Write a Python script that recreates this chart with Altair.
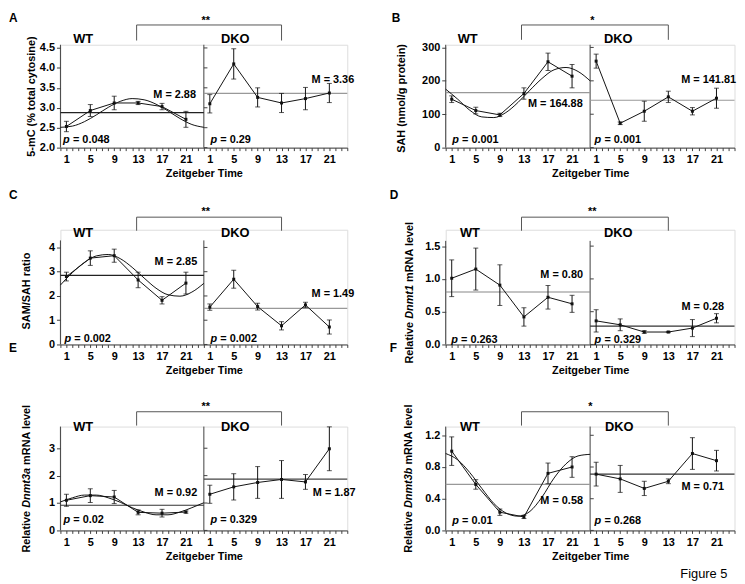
import altair as alt
import pandas as pd

FONT = "Liberation Sans"
INK = "#111111"
AXIS_C = "#404040"
BRACKET_C = "#555555"

HOURS = [1, 5, 9, 13, 17, 21]
FIT_HOURS = [0, 2, 4, 6, 8, 10, 12, 14, 16, 18, 20, 22, 24]
X_TICKS = list(range(0, 49))

# ---- Panel A: 5-mC
A_WT = [2.53, 2.93, 3.12, 3.12, 3.03, 2.71]
A_WT_ERR = [0.13, 0.15, 0.17, 0.04, 0.08, 0.20]
A_DKO = [3.10, 4.10, 3.26, 3.12, 3.23, 3.37]
A_DKO_ERR = [0.23, 0.38, 0.24, 0.24, 0.28, 0.24]
A_FIT = [2.51, 2.54, 2.65, 2.82, 3.01, 3.16, 3.23, 3.20, 3.09, 2.92, 2.73, 2.58, 2.51]
A_MEANS = [2.88, 3.36]
A_P = ["0.048", "0.29"]
A_TICKS = [2.0, 2.5, 3.0, 3.5, 4.0, 4.5]

# ---- Panel B: SAH
B_WT = [145, 111, 98, 162, 257, 214]
B_WT_ERR = [10, 10, 5, 17, 26, 35]
B_DKO = [259, 73, 109, 152, 109, 148]
B_DKO_ERR = [21, 4, 30, 17, 11, 30]
B_FIT = [175, 145, 112, 92, 90, 105, 135, 172, 207, 233, 240, 228, 200]
B_MEANS = [164.88, 141.81]
B_P = ["0.001", "0.001"]
B_TICKS = [0, 100, 200, 300]

# ---- Panel C: SAM/SAH ratio
C_WT = [2.80, 3.56, 3.66, 2.66, 1.82, 2.53]
C_WT_ERR = [0.18, 0.30, 0.27, 0.32, 0.15, 0.45]
C_DKO = [1.54, 2.69, 1.56, 0.77, 1.63, 0.72]
C_DKO_ERR = [0.13, 0.37, 0.14, 0.17, 0.11, 0.29]
C_FIT = [2.45, 2.96, 3.38, 3.65, 3.71, 3.54, 3.18, 2.74, 2.32, 2.05, 1.99, 2.16, 2.52]
C_MEANS = [2.85, 1.49]
C_P = ["0.002", "0.002"]
C_TICKS = [0, 1, 2, 3, 4]

# ---- Panel D: Dnmt1
D_WT = [1.01, 1.15, 0.905, 0.42, 0.72, 0.62]
D_WT_ERR = [0.28, 0.32, 0.31, 0.14, 0.18, 0.13]
D_DKO = [0.36, 0.30, 0.19, 0.19, 0.25, 0.40]
D_DKO_ERR = [0.17, 0.09, 0.02, 0.01, 0.13, 0.07]
D_FIT = []
D_MEANS = [0.80, 0.28]
D_P = ["0.263", "0.329"]
D_TICKS = [0.0, 0.5, 1.0, 1.5]

# ---- Panel E: Dnmt3a
E_WT = [1.10, 1.27, 1.22, 0.66, 0.63, 0.67]
E_WT_ERR = [0.22, 0.25, 0.24, 0.09, 0.14, 0.04]
E_DKO = [1.32, 1.59, 1.75, 1.86, 1.77, 2.98]
E_DKO_ERR = [0.33, 0.48, 0.58, 0.69, 0.27, 0.80]
E_FIT = [1.04, 1.19, 1.29, 1.29, 1.19, 1.03, 0.83, 0.67, 0.57, 0.57, 0.67, 0.83, 1.01]
E_MEANS = [0.92, 1.87]
E_P = ["0.02", "0.329"]
E_TICKS = [0, 1, 2, 3]

# ---- Panel F: Dnmt3b
F_WT = [1.00, 0.58, 0.23, 0.17, 0.72, 0.80]
F_WT_ERR = [0.18, 0.06, 0.04, 0.02, 0.13, 0.13]
F_DKO = [0.71, 0.65, 0.53, 0.62, 0.97, 0.88]
F_DKO_ERR = [0.15, 0.17, 0.09, 0.03, 0.20, 0.13]
F_FIT = [0.97, 0.89, 0.73, 0.53, 0.34, 0.22, 0.18, 0.24, 0.42, 0.66, 0.84, 0.94, 0.96]
F_MEANS = [0.58, 0.71]
F_P = ["0.01", "0.268"]
F_TICKS = [0.0, 0.4, 0.8, 1.2]

STARS = ["**", "*", "**", "**", "**", "*"]
LETTERS = ["A", "B", "C", "D", "E", "F"]
Y_TITLES = [
    [("5-mC (% total cytosine)", False)],
    [("SAH (nmol/g protein)", False)],
    [("SAM/SAH ratio", False)],
    [("Relative", False), ("Dnmt1", True), ("mRNA level", False)],
    [("Relative", False), ("Dnmt3a", True), ("mRNA level", False)],
    [("Relative", False), ("Dnmt3b", True), ("mRNA level", False)],
]

# Arial-bold advance widths (per 1000 em) for laying out mixed-style titles
CW = {" ": 278, "R": 722, "e": 556, "l": 278, "a": 556, "t": 333, "i": 278, "v": 556,
      "D": 722, "n": 611, "m": 889, "1": 556, "3": 556, "b": 611, "N": 722, "A": 722}


def tw(s, size):
    return sum(CW.get(c, 556) for c in s) * size / 1000.0


DUMMY = pd.DataFrame({"k": [0]})


def txt(text, x, y, size=11, align="left", baseline="middle", italic=False,
        weight="bold", angle=0, color="black"):
    kw = dict(text=text, align=align, baseline=baseline, fontSize=size,
              fontWeight=weight, font=FONT, color=color)
    if italic:
        kw["fontStyle"] = "italic"
    if angle:
        kw["angle"] = angle
    return alt.Chart(DUMMY).mark_text(**kw).encode(x=alt.value(x), y=alt.value(y))


def panel(wt, wt_err, dko, dko_err, fit, means, pvals, ticks, fmt, domain, axis_top,
          w, h, lay, letter, star, ytitle, mean_colors):
    ymin, ymax = domain
    rows = []
    for hh, v, e in zip(HOURS, wt, wt_err):
        rows.append({"x": hh, "y": v, "lo": v - e, "hi": v + e, "g": "WT"})
    for hh, v, e in zip(HOURS, dko, dko_err):
        rows.append({"x": hh + 24, "y": v, "lo": v - e, "hi": v + e, "g": "DKO"})
    pts = pd.DataFrame(rows)
    caps = pd.concat([
        pts[["x", "lo"]].rename(columns={"lo": "y"}),
        pts[["x", "hi"]].rename(columns={"hi": "y"}),
    ], ignore_index=True)

    xs = alt.Scale(domain=[0, 48], nice=False, zero=False)
    ys = alt.Scale(domain=[ymin, ymax], nice=False, zero=False)
    xax = alt.Axis(values=X_TICKS,
                   labelExpr="datum.value % 4 == 1 ? '' + (datum.value % 24) : ''",
                   title="Zeitgeber Time", tickSize=3, labelPadding=3, titlePadding=3,
                   grid=False, domainColor=AXIS_C, tickColor=AXIS_C, labelFont=FONT,
                   labelFontSize=11, labelFontWeight="bold", labelColor="black",
                   titleFont=FONT, titleFontSize=11, titleFontWeight="bold",
                   titleColor="black", labelFlush=False, labelOverlap=False)
    yax = alt.Axis(values=ticks, format=fmt, title=None, domain=False, grid=False,
                   tickSize=4, labelPadding=2, tickColor=AXIS_C, labelFont=FONT,
                   labelFontSize=11, labelFontWeight="bold", labelColor="black",
                   labelOverlap=False, labelFlush=False)

    def X(f):
        return alt.X(f, type="quantitative", scale=xs, axis=xax)

    def Y(f):
        return alt.Y(f, type="quantitative", scale=ys, axis=yax)

    layers = []
    # frame: y axis line and the DKO divider
    frame = pd.DataFrame({"x": [0, 24], "y": [ymin, ymin], "y2": [axis_top, axis_top]})
    layers.append(alt.Chart(frame).mark_rule(color=AXIS_C, strokeWidth=1)
                  .encode(x=X("x"), y=Y("y"), y2="y2:Q"))
    inner = pd.DataFrame({"x": [24] * len(ticks), "x2": [24.6] * len(ticks), "y": ticks})
    layers.append(alt.Chart(inner).mark_rule(color=AXIS_C, strokeWidth=1)
                  .encode(x=X("x"), x2="x2:Q", y=Y("y")))
    # mean lines
    for (x0, x1), m, c in zip([(0, 24), (24, 48)], means, mean_colors):
        md = pd.DataFrame({"x": [x0], "x2": [x1], "y": [m]})
        layers.append(alt.Chart(md).mark_rule(color=c, strokeWidth=1.2)
                      .encode(x=X("x"), x2="x2:Q", y=Y("y")))
    # cosinor fit
    if fit:
        fd = pd.DataFrame({"x": FIT_HOURS, "y": fit})
        layers.append(alt.Chart(fd).mark_line(color=INK, strokeWidth=1, interpolate="monotone")
                      .encode(x=X("x"), y=Y("y")))
    base = alt.Chart(pts)
    layers.append(base.mark_line(color=INK, strokeWidth=1)
                  .encode(x=X("x"), y=Y("y"), detail="g:N"))
    layers.append(base.mark_rule(color=INK, strokeWidth=1)
                  .encode(x=X("x"), y=Y("lo"), y2="hi:Q"))
    layers.append(alt.Chart(caps).mark_tick(color=INK, orient="horizontal", size=5, thickness=1)
                  .encode(x=X("x"), y=Y("y")))
    layers.append(base.mark_square(color=INK, size=9, opacity=1)
                  .encode(x=X("x"), y=Y("y")))
    # significance bracket
    bx0, bx1 = lay["bx"]
    btop, bend = lay["by"]
    layers.append(alt.Chart(pd.DataFrame({"x": [bx0], "x2": [bx1]}))
                  .mark_rule(color=BRACKET_C, strokeWidth=1)
                  .encode(x=X("x"), x2="x2:Q", y=alt.value(btop)))
    layers.append(alt.Chart(pd.DataFrame({"x": [bx0, bx1]}))
                  .mark_rule(color=BRACKET_C, strokeWidth=1)
                  .encode(x=X("x"), y=alt.value(btop), y2=alt.value(bend)))
    sx, sy = lay["star"]
    layers.append(txt(star, sx, sy, size=11, align="center"))
    # labels
    lx, ly = lay["letter"]
    layers.append(txt(letter, lx, ly, size=12, baseline="top"))
    layers.append(txt("WT", lay["wt"][0], lay["wt"][1], size=13, align="center"))
    layers.append(txt("DKO", lay["dko"][0], lay["dko"][1], size=13, align="center"))
    layers.append(txt("M = %.2f" % means[0], lay["m1"][0], lay["m1"][1], align="right"))
    layers.append(txt("M = %.2f" % means[1], lay["m2"][0], lay["m2"][1], align="right"))
    for (px, py), pv in zip([lay["p1"], lay["p2"]], pvals):
        layers.append(txt("p", px, py, italic=True))
        layers.append(txt("= " + pv, px + 10, py))
    # y title
    tx, tcy = lay["ytitle"]
    sp = tw(" ", 11)
    total = sum(tw(s, 11) for s, _ in ytitle) + sp * (len(ytitle) - 1)
    start = tcy + total / 2.0
    for s, it in ytitle:
        layers.append(txt(s, tx, start, italic=it, angle=270, align="left"))
        start -= tw(s, 11) + sp
    if "extra" in lay:
        for t in lay["extra"]:
            layers.append(t)
    return alt.layer(*layers).properties(width=w, height=h)


W1, W2 = 290, 292
H1, H2, H3 = 104, 116, 105

LAY_A = dict(letter=(-52, -32), wt=(23, -6), dko=(176.7, -6), bx=(12.75, 37), by=(-20, -4.3),
             star=(147, -24), m1=(137, 50.7), m2=(297, 36), p1=(2.7, 96.7), p2=(151.7, 96.7),
             ytitle=(-28.3, 52))
LAY_B = dict(letter=(-54.5, -32), wt=(22.2, -6), dko=(174.5, -6), bx=(12.6, 37), by=(-20, -5),
             star=(148.2, -24), m1=(138.5, 60), m2=(293.5, 36), p1=(6.5, 96.7), p2=(150.5, 96.7),
             ytitle=(-44.5, 52))
LAY_C = dict(letter=(-52, -40), wt=(23, 3.7), dko=(176.7, 3.7), bx=(12.75, 37), by=(-12.7, 1),
             star=(147, -18), m1=(138.3, 33), m2=(297, 65.3), p1=(4, 110.7), p2=(151.7, 110.7),
             ytitle=(-33.3, 63.5))
LAY_D = dict(letter=(-56.5, -40), wt=(24.5, 3), dko=(174.5, 3), bx=(12.6, 37), by=(-12.7, 1),
             star=(148.2, -18), m1=(138.8, 46.3), m2=(281.5, 78), p1=(5.5, 111.3), p2=(150.5, 111.3),
             ytitle=(-36.5, 63.5))
LAY_E = dict(letter=(-52, -84.5), wt=(23, 0.7), dko=(176.7, 0.7), bx=(12.75, 37), by=(-15, -1),
             star=(147, -20), m1=(138.3, 66.7), m2=(298.3, 66.7), p1=(3, 94.7), p2=(151.7, 94.7),
             ytitle=(-33.3, 52.5))
LAY_F = dict(letter=(-56.5, -84.5), wt=(24.5, 0), dko=(175.5, 0), bx=(12.6, 37), by=(-15, -1),
             star=(146.2, -20), m1=(138.8, 75.7), m2=(281.5, 60.7), p1=(6.5, 95), p2=(150.5, 95),
             ytitle=(-37, 52.5),
             extra=[txt("Figure 5", 237.2, 149, size=13, weight="normal")])

pA = panel(A_WT, A_WT_ERR, A_DKO, A_DKO_ERR, A_FIT, A_MEANS, A_P, A_TICKS, ".1f",
           (2.0, 4.58), 4.58, W1, H1, LAY_A, LETTERS[0], STARS[0], Y_TITLES[0],
           ["#222222", "#999999"])
pB = panel(B_WT, B_WT_ERR, B_DKO, B_DKO_ERR, B_FIT, B_MEANS, B_P, B_TICKS, "d",
           (0, 308), 308, W2, H1, LAY_B, LETTERS[1], STARS[1], Y_TITLES[1],
           ["#999999", "#999999"])
pC = panel(C_WT, C_WT_ERR, C_DKO, C_DKO_ERR, C_FIT, C_MEANS, C_P, C_TICKS, "d",
           (0, 4.73), 4.29, W1, H2, LAY_C, LETTERS[2], STARS[2], Y_TITLES[2],
           ["#222222", "#999999"])
pD = panel(D_WT, D_WT_ERR, D_DKO, D_DKO_ERR, D_FIT, D_MEANS, D_P, D_TICKS, ".1f",
           (0, 1.75), 1.58, W2, H2, LAY_D, LETTERS[3], STARS[3], Y_TITLES[3],
           ["#888888", "#333333"])
pE = panel(E_WT, E_WT_ERR, E_DKO, E_DKO_ERR, E_FIT, E_MEANS, E_P, E_TICKS, "d",
           (0, 3.79), 3.79, W1, H3, LAY_E, LETTERS[4], STARS[4], Y_TITLES[4],
           ["#333333", "#444444"])
pF = panel(F_WT, F_WT_ERR, F_DKO, F_DKO_ERR, F_FIT, F_MEANS, F_P, F_TICKS, ".1f",
           (0, 1.31), 1.31, W2, H3, LAY_F, LETTERS[5], STARS[5], Y_TITLES[5],
           ["#999999", "#333333"])

chart = alt.concat(pA, pB, pC, pD, pE, pF, columns=2,
                   spacing={"row": 83, "column": 99.5}, bounds="flush").properties(
    padding=0
).configure_view(stroke=None).configure(font=FONT)

chart.save("out.html", embed_options={"renderer": "svg", "actions": False})
